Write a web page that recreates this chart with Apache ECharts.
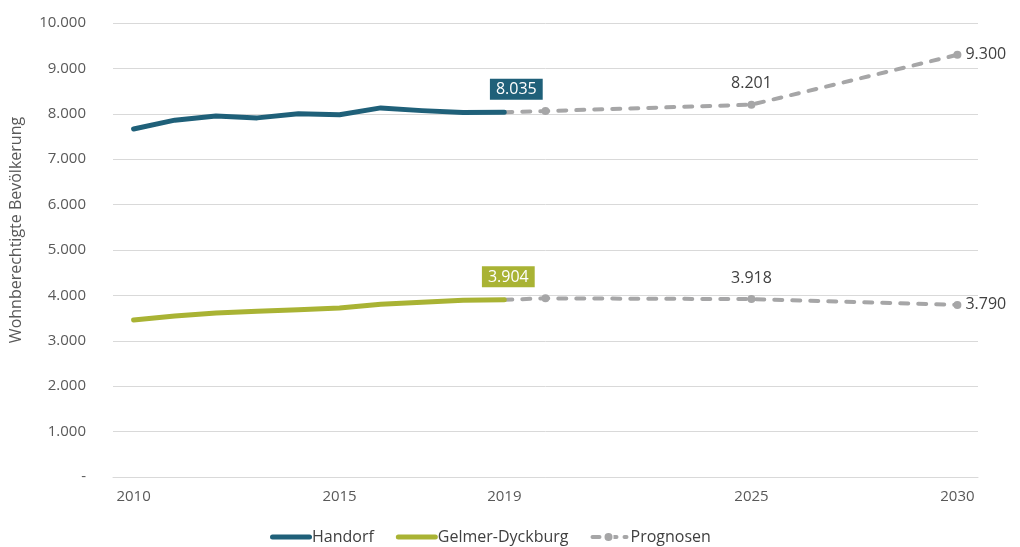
<!DOCTYPE html>
<html><head><meta charset="utf-8">
<script src="https://cdn.jsdelivr.net/npm/echarts@6/dist/echarts.min.js"></script>
<style>html,body{margin:0;padding:0;background:#fff}#c{width:1020px;height:547px}</style>
</head><body><div id="c"></div>
<script>
const years = ['2010','2011','2012','2013','2014','2015','2016','2017','2018','2019','2020','2021','2022','2023','2024','2025','2026','2027','2028','2029','2030'];
const shownYears = ['2010','2015','2019','2025','2030'];
const handorf = [7665, 7860, 7950, 7910, 8000, 7980, 8130, 8070, 8030, 8035];
const gelmer = [3460, 3545, 3610, 3650, 3685, 3720, 3805, 3850, 3895, 3904];
const progHandorf = {'2019': 8035, '2020': 8060, '2025': 8201, '2030': 9300};
const progGelmer = {'2019': 3904, '2020': 3935, '2025': 3918, '2030': 3790};

const C_H = '#1f6079', C_G = '#a9b334', C_P = '#a6a6a7', TXT = '#404040';
const FONT = 'Open Sans';

function fmt(v){ if (v === 0) return '-'; return v.toLocaleString('de-DE'); }

function progData(obj, labelMap){
  return years.map(y => {
    if (!(y in obj)) return null;
    const item = {value: obj[y]};
    if (y === '2019') { item.symbol = 'none'; }
    if (labelMap[y]) item.label = labelMap[y];
    return item;
  });
}
const topLabel = {show:true, position:'top', distance:9, color:TXT, fontSize:16, fontFamily:FONT, formatter:p=>fmt(p.value)};
const rightLabel = {show:true, position:'right', distance:4, color:TXT, fontSize:16, fontFamily:FONT, formatter:p=>fmt(p.value)};

function lastBoxed(arr, color, dx){
  return years.map((y,i)=>{
    if (i >= arr.length) return null;
    if (i === arr.length-1) return {value:arr[i], symbol:'circle', symbolSize:1,
      label:{show:true, position:'top', distance:12, offset:[dx,0], backgroundColor:color, color:'#fff', padding:[3,6,2,6], fontSize:16, fontFamily:FONT, formatter:p=>fmt(p.value)}};
    return {value:arr[i], symbol:'none'};
  });
}

const lineIcon = 'path://M2.5,0 h37 a2.5,2.5 0 0 1 0,5 h-37 a2.5,2.5 0 0 1 0,-5 z';
const progIcon = 'path://M2,2 h7 a2,2 0 0 1 0,4 h-7 a2,2 0 0 1 0,-4 z M14,4 a4,4 0 1 0 8,0 a4,4 0 1 0 -8,0 z M23,2 h3 a2,2 0 0 1 0,4 h-3 z M34,2 h2 a2,2 0 0 1 0,4 h-2 a2,2 0 0 1 0,-4 z';

const chart = echarts.init(document.getElementById('c'));
chart.setOption({
  animation:false,
  textStyle:{fontFamily:FONT},
  grid:{left:113, right:42, top:23, bottom:70, containLabel:false, outerBoundsMode:'none'},
  legend:{
    bottom:-3, left:265, itemWidth:42, itemHeight:8, itemGap:22,
    textStyle:{color:'#404040', fontSize:16, fontFamily:FONT, padding:[0,0,0,-5]},
    data:[{name:'Handorf', icon:lineIcon},{name:'Gelmer-Dyckburg', icon:lineIcon},{name:'Prognosen', icon:progIcon}]
  },
  xAxis:{
    type:'category', data:years, boundaryGap:true,
    axisTick:{show:false},
    axisLine:{lineStyle:{color:'#d9d9d9'}},
    axisLabel:{color:'#595959', fontSize:15, fontFamily:FONT, margin:12,
      interval:(i,v)=>shownYears.includes(v)}
  },
  yAxis:{
    type:'value', min:0, max:10000, interval:1000,
    name:'Wohnberechtigte Bevölkerung', nameLocation:'middle', nameGap:89, nameRotate:90,
    nameTextStyle:{color:'#595959', fontSize:16, fontFamily:FONT, padding:[0,0,0,40]},
    axisLine:{show:false}, axisTick:{show:false},
    splitLine:{lineStyle:{color:'#d9d9d9'}},
    axisLabel:{color:'#595959', fontSize:15, fontFamily:FONT, margin:27, formatter:v=>fmt(v)}
  },
  series:[
    {name:'Prognosen', type:'line', connectNulls:true, symbol:'circle', symbolSize:8, z:1,
      lineStyle:{color:C_P, width:4, type:[8,10], cap:'round'}, itemStyle:{color:C_P},
      data:progData(progHandorf, {'2025':topLabel, '2030':rightLabel})},
    {name:'Prognosen', type:'line', connectNulls:true, symbol:'circle', symbolSize:8, z:1,
      lineStyle:{color:C_P, width:4, type:[8,10], cap:'round'}, itemStyle:{color:C_P},
      data:progData(progGelmer, {'2025':topLabel, '2030':rightLabel})},
    {name:'Handorf', type:'line', z:3,
      lineStyle:{color:C_H, width:5, cap:'round', join:'round'}, itemStyle:{color:C_H},
      data:lastBoxed(handorf, C_H, 12)},
    {name:'Gelmer-Dyckburg', type:'line', z:3,
      lineStyle:{color:C_G, width:5, cap:'round', join:'round'}, itemStyle:{color:C_G},
      data:lastBoxed(gelmer, C_G, 4)}
  ]
});
</script></body></html>
